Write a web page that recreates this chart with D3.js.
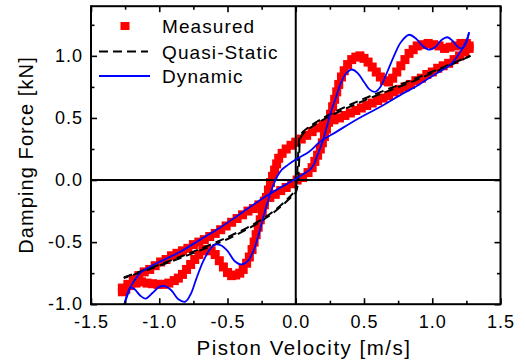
<!DOCTYPE html>
<html>
<head>
<meta charset="utf-8">
<script src="https://cdn.jsdelivr.net/npm/d3@7"></script>
<style>
html,body{margin:0;padding:0;background:#fff;}
svg{display:block;font-family:"Liberation Sans",Arial,sans-serif;}
</style>
</head>
<body>
<svg id="chart" width="525" height="363"></svg>
<script>
// ---------------- data ----------------
const xTicks = [-1.5, -1.0, -0.5, 0.0, 0.5, 1.0, 1.5];
const xMinor = [-1.25, -0.75, -0.25, 0.25, 0.75, 1.25];
const yTicks = [-1.0, -0.5, 0.0, 0.5, 1.0];
const yMinor = [-0.75, -0.25, 0.25, 0.75, 1.25];
const legendLabels = ["Measured", "Quasi-Static", "Dynamic"];

// Measured, velocity increasing branch
const measUpV = [-1.27,-1.23,-1.19,-1.15,-1.11,-1.07,-1.03,-0.99,-0.95,-0.91,-0.87,-0.83,-0.79,-0.75,-0.71,-0.67,-0.63,-0.59,-0.55,-0.51,-0.47,-0.43,-0.39,-0.35,-0.31,-0.27,-0.23,-0.19,-0.15,-0.11,-0.07,-0.03,0.01,
  0.05,0.09,0.12,0.14,0.16,0.18,0.195,0.21,0.225,0.24,0.255,0.27,0.285,0.30,0.315,0.335,0.355,0.38,0.41,0.44,0.47,0.50,0.53,0.56,0.59,0.62,0.65,0.68,0.71,0.74,0.77,0.80,0.83,0.86,0.89,0.93,0.97,1.01,1.05,1.09,1.13,1.17,1.21,1.25,1.27];
const measUpF = [-0.87,-0.84,-0.80,-0.77,-0.74,-0.72,-0.69,-0.66,-0.64,-0.61,-0.59,-0.57,-0.55,-0.52,-0.50,-0.48,-0.455,-0.43,-0.40,-0.37,-0.34,-0.31,-0.28,-0.25,-0.23,-0.20,-0.17,-0.14,-0.115,-0.085,-0.06,-0.03,0.0,
  0.02,0.06,0.10,0.15,0.20,0.25,0.30,0.35,0.41,0.47,0.53,0.59,0.65,0.71,0.77,0.83,0.88,0.93,0.97,0.99,1.00,0.98,0.95,0.91,0.87,0.83,0.80,0.79,0.82,0.87,0.92,0.97,1.02,1.05,1.08,1.09,1.10,1.09,1.08,1.06,1.07,1.08,1.10,1.10,1.08];
// Measured, velocity decreasing branch
const measDnV = [1.27,1.24,1.20,1.16,1.12,1.08,1.04,1.00,0.96,0.92,0.88,0.84,0.80,0.76,0.72,0.68,0.64,0.60,0.56,0.52,0.48,0.44,0.40,0.36,0.32,0.28,0.24,0.20,0.16,0.12,0.08,0.04,0.0,-0.035,-0.07,-0.10,
  -0.125,-0.14,-0.155,-0.17,-0.185,-0.20,-0.215,-0.23,-0.245,-0.26,-0.275,-0.29,-0.305,-0.32,-0.34,-0.36,-0.385,-0.41,-0.44,-0.47,-0.50,-0.53,-0.56,-0.59,-0.62,-0.65,-0.68,-0.71,-0.74,-0.77,-0.80,-0.83,-0.86,-0.89,-0.93,-0.97,-1.01,-1.05,-1.09,-1.13,-1.17,-1.21,-1.245,-1.27];
const measDnF = [1.06,1.03,1.00,0.97,0.94,0.92,0.90,0.87,0.85,0.82,0.80,0.77,0.75,0.73,0.71,0.68,0.66,0.64,0.62,0.60,0.58,0.56,0.54,0.52,0.50,0.485,0.465,0.445,0.42,0.39,0.36,0.33,0.305,0.28,0.25,0.215,
  0.175,0.13,0.08,0.03,-0.02,-0.08,-0.14,-0.20,-0.26,-0.32,-0.38,-0.44,-0.50,-0.56,-0.62,-0.67,-0.72,-0.75,-0.765,-0.77,-0.745,-0.70,-0.65,-0.60,-0.57,-0.56,-0.57,-0.60,-0.64,-0.68,-0.72,-0.76,-0.79,-0.81,-0.83,-0.84,-0.84,-0.835,-0.83,-0.82,-0.83,-0.85,-0.88,-0.90];

// Quasi-static loop
const qsDnV = [1.28,1.10,0.86,0.50,0.20,0.06,0.035,0.025,0.015,0.0,-0.04,-0.21,-0.48,-0.85,-1.26];
const qsDnF = [1.00,0.91,0.795,0.64,0.485,0.38,0.34,0.15,-0.03,-0.10,-0.145,-0.30,-0.465,-0.63,-0.79];
const qsUpV = [-1.26,-0.85,-0.48,-0.21,-0.04,-0.005,0.01,0.02,0.03,0.05,0.20,0.50,0.86,1.28];
const qsUpF = [-0.785,-0.62,-0.45,-0.29,-0.13,-0.08,0.05,0.25,0.35,0.385,0.50,0.655,0.81,1.0];

// Dynamic model
const dynUpV = [-1.255,-1.23,-1.21,-1.17,-1.13,-1.07,-0.99,-0.85,-0.70,-0.55,-0.41,-0.21,0.0,0.06,0.11,0.135,0.155,0.18,0.20,0.225,0.25,0.27,0.29,0.33,0.37,0.41,0.45,0.50,0.54,0.58,0.62,0.67,0.72,0.77,0.83,0.88,0.93,0.98,1.02,1.07,1.11,1.15,1.19,1.22,1.25,1.27];
const dynUpF = [-1.0,-0.92,-0.86,-0.79,-0.74,-0.70,-0.655,-0.58,-0.48,-0.38,-0.275,-0.125,0.01,0.05,0.09,0.13,0.19,0.26,0.32,0.42,0.52,0.59,0.65,0.78,0.86,0.89,0.865,0.79,0.73,0.71,0.75,0.87,1.0,1.11,1.17,1.14,1.08,1.05,1.07,1.13,1.15,1.12,1.07,1.06,1.11,1.19];
const dynDnV = [1.27,1.25,1.22,1.18,1.13,1.05,0.99,0.89,0.79,0.62,0.45,0.30,0.18,0.10,0.0,-0.06,-0.10,-0.13,-0.16,-0.19,-0.22,-0.25,-0.28,-0.31,-0.35,-0.40,-0.45,-0.50,-0.55,-0.59,-0.63,-0.68,-0.73,-0.77,-0.81,-0.86,-0.91,-0.96,-1.0,-1.05,-1.10,-1.14,-1.18,-1.21,-1.235,-1.255];
const dynDnF = [1.19,1.12,1.06,0.99,0.925,0.87,0.83,0.76,0.70,0.59,0.49,0.39,0.31,0.23,0.165,0.12,0.085,0.04,-0.03,-0.12,-0.23,-0.35,-0.47,-0.57,-0.65,-0.68,-0.65,-0.57,-0.525,-0.52,-0.56,-0.66,-0.80,-0.92,-0.98,-0.96,-0.89,-0.855,-0.86,-0.91,-0.955,-0.93,-0.88,-0.865,-0.92,-1.0];

// ---------------- chart ----------------
const svg = d3.select("#chart");
const pL = 91, pR = 500.5, pT = 6.2, pB = 304.2;
const x = d3.scaleLinear().domain([-1.5, 1.5]).range([pL, pR]);
const y = d3.scaleLinear().domain([-1.0, 1.4]).range([pB, pT]);
const zip = (a, b) => a.map((v, i) => [v, b[i]]);
const fmt = d => d.toFixed(1);

const plot = svg.append("g");
plot.append("clipPath").attr("id", "clip").append("rect")
  .attr("x", pL).attr("y", pT).attr("width", pR - pL).attr("height", pB - pT);
const inner = plot.append("g").attr("clip-path", "url(#clip)");

// measured squares
const sq = 9;
const meas = zip(measUpV, measUpF).concat(zip(measDnV, measDnF));
inner.selectAll("rect.m").data(meas).join("rect").attr("class", "m")
  .attr("x", d => x(d[0]) - sq / 2).attr("y", d => y(d[1]) - sq / 2)
  .attr("width", sq).attr("height", sq).attr("fill", "#ff0000");

// zero lines
inner.append("line").attr("x1", x(0)).attr("x2", x(0)).attr("y1", pT).attr("y2", pB)
  .attr("stroke", "#000").attr("stroke-width", 2);
inner.append("line").attr("x1", pL).attr("x2", pR).attr("y1", y(0)).attr("y2", y(0))
  .attr("stroke", "#000").attr("stroke-width", 2);

const line = d3.line().x(d => x(d[0])).y(d => y(d[1])).curve(d3.curveCatmullRom.alpha(0.5));

// quasi-static
[zip(qsDnV, qsDnF), zip(qsUpV, qsUpF)].forEach(p => {
  inner.append("path").attr("d", line(p)).attr("fill", "none")
    .attr("stroke", "#000").attr("stroke-width", 2).attr("stroke-dasharray", "9,5");
});

// dynamic
[zip(dynUpV, dynUpF), zip(dynDnV, dynDnF)].forEach(p => {
  inner.append("path").attr("d", line(p)).attr("fill", "none")
    .attr("stroke", "#0000ff").attr("stroke-width", 1.8);
});

// axes
const axG = svg.append("g");
function styleAxis(g) {
  g.select(".domain").remove();
  g.selectAll(".tick line").attr("stroke", "#000").attr("stroke-width", 1.6);
  g.selectAll("text").attr("font-size", 18).attr("fill", "#000")
    .attr("font-family", "Liberation Sans, Arial, sans-serif").style("letter-spacing", "1px");
}
axG.append("g").attr("transform", `translate(0,${pB})`)
  .call(d3.axisBottom(x).tickValues(xTicks).tickFormat(fmt).tickSize(-6).tickPadding(11)).call(styleAxis);
axG.append("g").attr("transform", `translate(0,${pB})`)
  .call(d3.axisBottom(x).tickValues(xMinor).tickFormat("").tickSize(-3.5)).call(styleAxis);
axG.append("g").attr("transform", `translate(0,${pT})`)
  .call(d3.axisTop(x).tickValues(xTicks).tickFormat("").tickSize(-6)).call(styleAxis);
axG.append("g").attr("transform", `translate(0,${pT})`)
  .call(d3.axisTop(x).tickValues(xMinor).tickFormat("").tickSize(-3.5)).call(styleAxis);
axG.append("g").attr("transform", `translate(${pL},0)`)
  .call(d3.axisLeft(y).tickValues(yTicks).tickFormat(fmt).tickSize(-6).tickPadding(8)).call(styleAxis);
axG.append("g").attr("transform", `translate(${pL},0)`)
  .call(d3.axisLeft(y).tickValues(yMinor).tickFormat("").tickSize(-3.5)).call(styleAxis);
axG.append("g").attr("transform", `translate(${pR},0)`)
  .call(d3.axisRight(y).tickValues(yTicks).tickFormat("").tickSize(-6)).call(styleAxis);
axG.append("g").attr("transform", `translate(${pR},0)`)
  .call(d3.axisRight(y).tickValues(yMinor).tickFormat("").tickSize(-3.5)).call(styleAxis);

// frame
svg.append("rect").attr("x", pL).attr("y", pT).attr("width", pR - pL).attr("height", pB - pT)
  .attr("fill", "none").attr("stroke", "#000").attr("stroke-width", 2);

// axis titles
svg.append("text").attr("x", 304).attr("y", 355).attr("text-anchor", "middle")
  .attr("font-size", 20.5).style("letter-spacing", "1.5px").text("Piston Velocity [m/s]");
svg.append("text").attr("transform", "translate(33,155) rotate(-90)").attr("text-anchor", "middle")
  .attr("font-size", 20).style("letter-spacing", "1.1px").text("Damping Force [kN]");

// legend
const lg = svg.append("g");
const lgY = [26, 51.5, 76];
lg.append("rect").attr("x", 125 - 4.5).attr("y", lgY[0] - 4).attr("width", 9).attr("height", 8).attr("fill", "#ff0000");
lg.append("line").attr("x1", 99).attr("x2", 148).attr("y1", lgY[1]).attr("y2", lgY[1])
  .attr("stroke", "#000").attr("stroke-width", 2).attr("stroke-dasharray", "9,5");
lg.append("line").attr("x1", 99).attr("x2", 150).attr("y1", lgY[2]).attr("y2", lgY[2])
  .attr("stroke", "#0000ff").attr("stroke-width", 1.8);
lg.selectAll("text").data(legendLabels).join("text")
  .attr("x", 162).attr("y", (d, i) => lgY[i] + 7)
  .attr("font-size", 19).style("letter-spacing", "1.1px").text(d => d);
</script>
</body>
</html>
